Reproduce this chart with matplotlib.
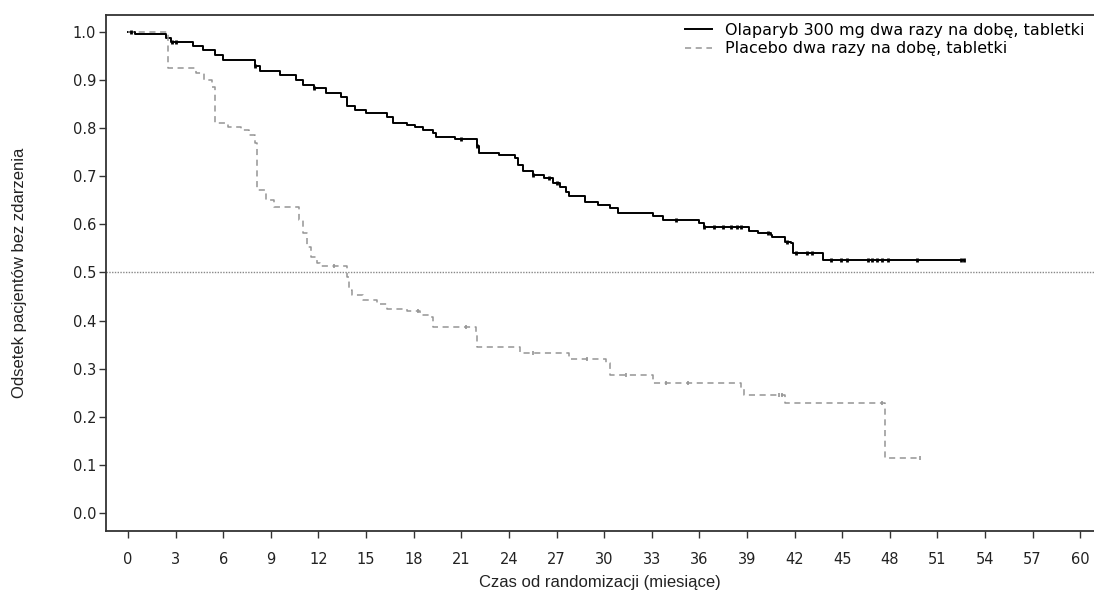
import matplotlib
matplotlib.use("Agg")
import matplotlib.pyplot as plt
import numpy as np

# Krzywe Kaplana-Meiera (czas w miesiącach, odsetek)
olap_t = [0, 0.44, 2.4, 2.7, 4.1, 4.7, 5.5, 6.0, 8.0, 8.3, 9.6, 10.6, 11.0, 11.7,
          12.5, 13.4, 13.8, 14.3, 15.0, 16.3, 16.7, 17.6, 18.1, 18.6, 19.2, 19.4,
          20.6, 22.0, 22.1, 23.4, 24.4, 24.6, 24.9, 25.5, 26.2, 26.8, 27.2, 27.6,
          27.8, 28.8, 29.6, 30.4, 30.9, 33.1, 33.7, 36.0, 36.3, 39.1, 39.7, 40.5,
          40.6, 41.4, 41.8, 41.9, 43.8, 52.7]
olap_s = [1.0, 0.995, 0.988, 0.978, 0.970, 0.962, 0.952, 0.942, 0.928, 0.918, 0.911,
          0.900, 0.890, 0.883, 0.872, 0.864, 0.845, 0.838, 0.831, 0.824, 0.810, 0.807,
          0.803, 0.796, 0.790, 0.781, 0.777, 0.762, 0.748, 0.744, 0.737, 0.723, 0.710,
          0.703, 0.696, 0.685, 0.677, 0.668, 0.658, 0.647, 0.640, 0.633, 0.623, 0.617,
          0.609, 0.602, 0.595, 0.586, 0.581, 0.578, 0.573, 0.564, 0.561, 0.541, 0.526,
          0.526]
olap_cens = [0.2, 2.8, 3.0, 8.0, 11.7, 21.0, 22.0, 25.5, 26.5, 27.0, 34.5, 36.3,
             36.9, 37.5, 38.0, 38.4, 38.6, 40.3, 41.5, 42.1, 42.8, 43.1, 44.3, 44.9,
             45.3, 46.6, 46.9, 47.2, 47.5, 47.9, 49.7, 52.5, 52.7]

plac_t = [0, 2.5, 4.3, 4.8, 5.3, 5.5, 6.3, 7.1, 7.6, 8.0, 8.1, 8.7, 9.2, 10.8, 11.0,
          11.3, 11.5, 11.9, 12.1, 13.8, 13.9, 14.1, 14.8, 15.7, 16.3, 17.6, 18.4,
          19.0, 19.2, 21.9, 22.0, 24.7, 27.8, 30.1, 30.4, 33.1, 38.6, 38.8, 41.4,
          47.7, 49.9]
plac_s = [1.0, 0.924, 0.914, 0.900, 0.886, 0.810, 0.803, 0.796, 0.786, 0.769, 0.672,
          0.651, 0.637, 0.609, 0.582, 0.553, 0.533, 0.519, 0.514, 0.491, 0.464, 0.453,
          0.443, 0.435, 0.425, 0.420, 0.412, 0.407, 0.387, 0.374, 0.346, 0.332, 0.320,
          0.311, 0.287, 0.270, 0.259, 0.245, 0.228, 0.114, 0.114]
plac_cens = [13.0, 18.3, 21.3, 25.5, 28.9, 31.4, 33.9, 35.3, 41.0, 41.2, 47.5, 49.9]

x_ticks = list(range(0, 61, 3))
y_ticks = [0.0, 0.1, 0.2, 0.3, 0.4, 0.5, 0.6, 0.7, 0.8, 0.9, 1.0]

labels = ["Olaparyb 300 mg dwa razy na dobę, tabletki",
          "Placebo dwa razy na dobę, tabletki"]


def s_w_czasie(t, s, czasy):
    # wartość funkcji schodkowej w chwilach cenzurowania
    idx = np.searchsorted(t, czasy, side="right") - 1
    return np.array(s)[idx]


fig = plt.figure(figsize=(10.94, 5.99), dpi=100)
ax = fig.add_axes([106 / 1094, 1 - 531 / 599, 1 - 106 / 1094, (531 - 15) / 599])

gray = "#959595"
ax.step(olap_t, olap_s, where="post", color="black", lw=1.4, label=labels[0])
ax.step(plac_t, plac_s, where="post", color=gray, lw=1.1, dashes=(4, 3), label=labels[1])

ax.plot(olap_cens, s_w_czasie(olap_t, olap_s, olap_cens), ls="none", marker="|",
        ms=3.5, mew=2, color="black")
ax.plot(plac_cens, s_w_czasie(plac_t, plac_s, plac_cens), ls="none", marker="|",
        ms=3.5, mew=1.2, color=gray)

ax.axhline(0.5, color="#888888", lw=1, ls=(0, (1, 1)))

ax.set_xlim(-1.39, 60.87)
ax.set_ylim(-0.0374, 1.035)
ax.set_xticks(x_ticks)
ax.set_yticks(y_ticks)
ax.set_yticklabels([f"{v:.1f}" for v in y_ticks])
ax.tick_params(axis="both", labelsize=10.5, length=5, width=1, color="#333333",
               labelcolor="#222222")
ax.tick_params(axis="x", pad=10)
ax.tick_params(axis="y", pad=2)

for side in ["left", "bottom", "top"]:
    ax.spines[side].set_color("#333333")
    ax.spines[side].set_linewidth(1.3)
ax.spines["right"].set_visible(False)

opis = ["Liberation Sans", "DejaVu Sans"]
ax.set_xlabel("Czas od randomizacji (miesiące)", fontsize=12, family=opis,
              color="#222222")
ax.set_ylabel("Odsetek pacjentów bez zdarzenia", fontsize=12, family=opis,
              color="#222222")
ax.xaxis.set_label_coords(0.5, -0.086)
ax.yaxis.set_label_coords(-0.080, 0.5)

leg = ax.legend(loc="upper right", frameon=False, fontsize=11.5, handlelength=1.7,
                handletextpad=0.8, borderaxespad=0.1, labelspacing=0.2,
                bbox_to_anchor=(0.998, 1.0))

fig.savefig("out.png", dpi=100)
